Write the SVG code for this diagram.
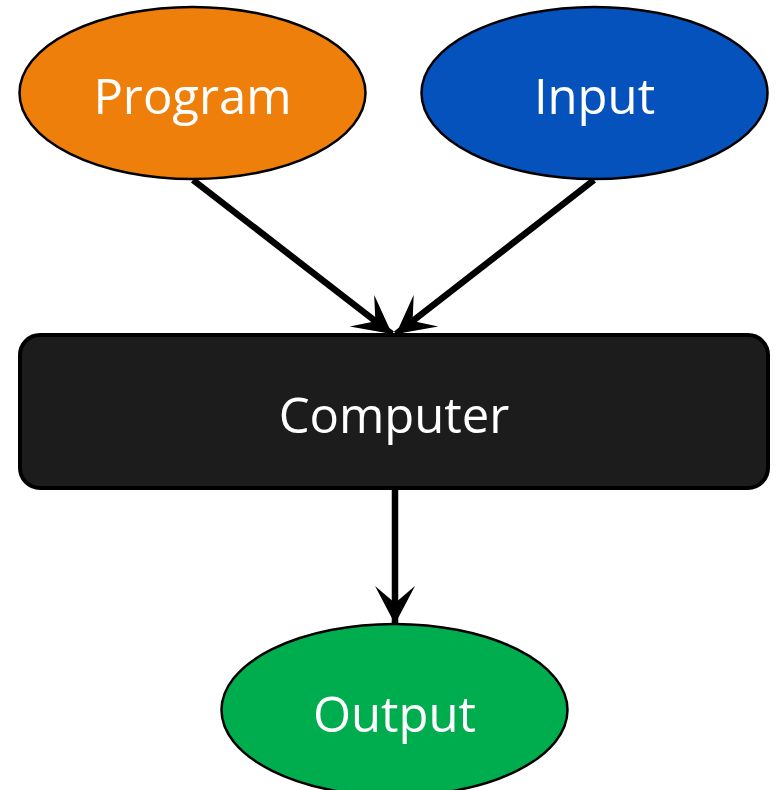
<svg xmlns="http://www.w3.org/2000/svg" width="777" height="790" viewBox="0 0 777 790">
<defs>
<style>
.node{stroke:#000;stroke-width:2.5}
.lbl{font-family:"Open Sans","Noto Sans",sans-serif;font-size:49px;fill:#fff;text-anchor:middle}
.edge{stroke:#000;stroke-width:6.5;fill:none}
</style>
<marker id="ah" viewBox="0 0 40 42" refX="38" refY="21" markerWidth="40" markerHeight="42" markerUnits="userSpaceOnUse" orient="auto">
<path d="M0,1 L38,21 L0,41 L17,21 Z" fill="#000"/>
</marker>
</defs>
<rect width="777" height="790" fill="#fff"/>
<g id="connectors">
<line class="edge" x1="193" y1="180" x2="392" y2="334" marker-end="url(#ah)"/>
<line class="edge" x1="594" y1="180" x2="396" y2="334" marker-end="url(#ah)"/>
<line class="edge" x1="395" y1="490" x2="395" y2="624" marker-end="url(#ah)"/>
</g>
<g id="program">
<ellipse class="node" cx="192.5" cy="93" rx="173" ry="86" fill="#EF7F0B"/>
<text class="lbl" x="192.5" y="114">Program</text>
</g>
<g id="input">
<ellipse class="node" cx="594.5" cy="93" rx="173" ry="86" fill="#0652BD"/>
<text class="lbl" x="594.5" y="114">Input</text>
</g>
<g id="computer">
<rect x="20" y="335" width="748" height="153" rx="20" fill="#1c1c1c" stroke="#000" stroke-width="4"/>
<text class="lbl" x="394" y="433">Computer</text>
</g>
<g id="output">
<ellipse class="node" cx="394.5" cy="710" rx="173" ry="86" fill="#00AD4E"/>
<text class="lbl" x="394.5" y="732">Output</text>
</g>
</svg>
